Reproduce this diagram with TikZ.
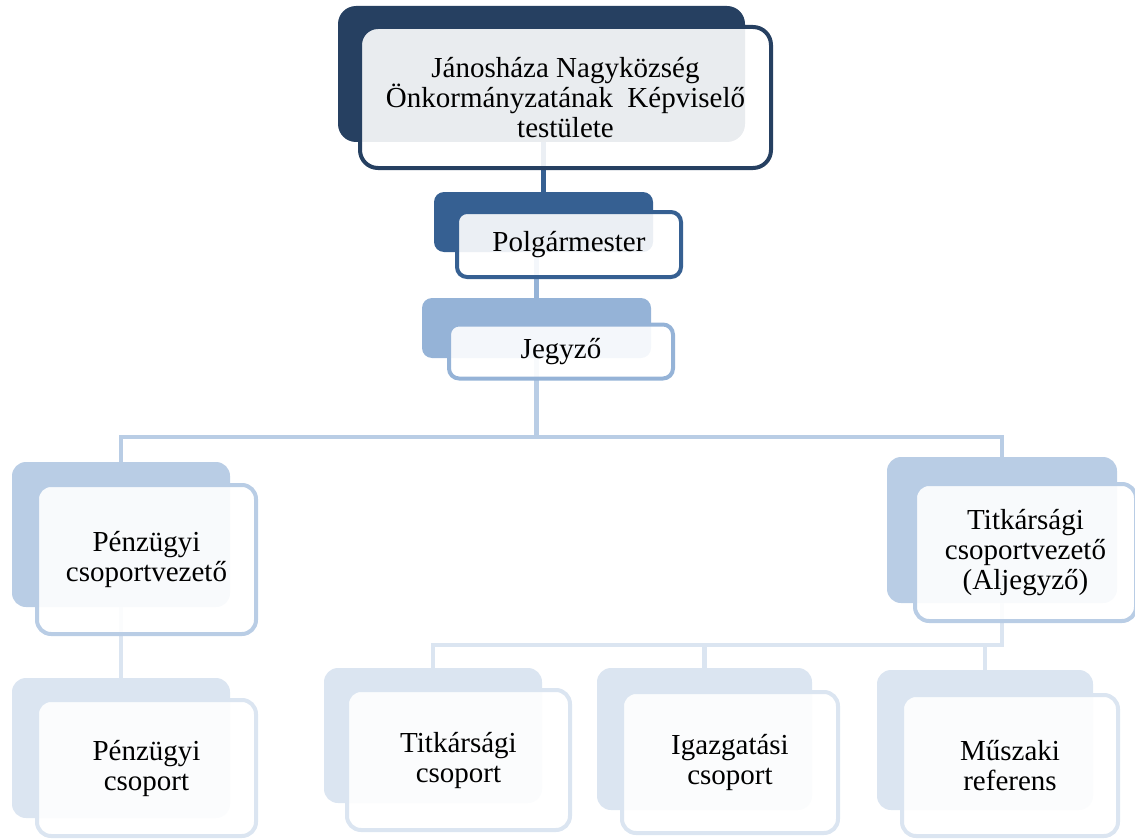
\documentclass[tikz,border=0pt]{standalone}
\usepackage{fontspec}
\setmainfont{Liberation Serif}
\usepackage{tikz}
\usepackage{xcolor}

\definecolor{lvlA}{RGB}{38,64,97}
\definecolor{lvlB}{RGB}{54,96,146}
\definecolor{lvlC}{RGB}{149,179,215}
\definecolor{lvlD}{RGB}{185,205,229}
\definecolor{lvlE}{RGB}{219,229,241}
\newcommand{\orgfont}{\fontsize{29}{30}\selectfont}

\tikzset{
  backbox/.style={fill=#1, rounded corners=14pt, inner sep=0pt},
  frontbox/.style={draw=#1, line width=4pt, fill=white, fill opacity=0.9,
    text opacity=1, rounded corners=14pt, inner sep=0pt, align=center, font=\orgfont},
  conn/.style={draw=#1, line width=4.5pt}
}

\begin{document}
\begin{tikzpicture}[x=1pt, y=-1pt]
        \useasboundingbox (0,0) rectangle (1135,840);

        \node[backbox=lvlA, minimum width=407pt, minimum height=136pt, rounded corners=18pt] (Kb) at (541.5,74) {};
        \node[backbox=lvlB, minimum width=219pt, minimum height=60pt, rounded corners=10pt] (Pb) at (543.5,222) {};
        \node[backbox=lvlC, minimum width=229pt, minimum height=60pt, rounded corners=10pt] (Jb) at (536.5,328) {};
        \node[backbox=lvlD, minimum width=218pt, minimum height=145pt] (PVb) at (121,534.5) {};
        \node[backbox=lvlD, minimum width=230pt, minimum height=146pt] (TVb) at (1002,530) {};
        \node[backbox=lvlE, minimum width=218pt, minimum height=140pt] (PCb) at (121,748) {};
        \node[backbox=lvlE, minimum width=218pt, minimum height=135pt] (TCb) at (433,735.5) {};
        \node[backbox=lvlE, minimum width=215pt, minimum height=142pt] (ICb) at (704.5,739) {};
        \node[backbox=lvlE, minimum width=216pt, minimum height=140pt] (MRb) at (985,740) {};

        \draw[conn=lvlB] (Pb.north |- Kb.south) -- (Pb.north);
        \draw[conn=lvlC] (Jb.north |- Pb.south) -- (Jb.north);
        \draw[conn=lvlD] (Jb.south) -- ++(0,79) -| (PVb.north);
        \draw[conn=lvlD] (Jb.south) -- ++(0,79) -| (TVb.north);
        \draw[conn=lvlE] (PVb.south) -- (PCb.north);
        \draw[conn=lvlE] (TVb.south) -- ++(0,42) -| (TCb.north);
        \draw[conn=lvlE] (TVb.south) -- ++(0,42) -| (ICb.north);
        \draw[conn=lvlE] (TVb.south) -- ++(0,42) -| (MRb.north);

        \node[frontbox=lvlA, minimum width=411pt, minimum height=141pt, rounded corners=18pt] (K) at (565.5,97.5) {Jánosháza Nagyközség\\Önkormányzatának~ Képviselő\\testülete};
        \node[frontbox=lvlB, minimum width=224pt, minimum height=65pt, rounded corners=10pt] (P) at (569,244.5) {Polgármester};
        \node[frontbox=lvlC, minimum width=224pt, minimum height=54pt, rounded corners=10pt] (J) at (561,351.5) {Jegyző};
        \node[frontbox=lvlD, minimum width=219pt, minimum height=149pt] (PV) at (146.5,559.5) {Pénzügyi\\csoportvezető};
        \node[frontbox=lvlD, minimum width=221pt, minimum height=137pt] (TV) at (1025.5,552.5) {Titkársági\\csoportvezető\\(Aljegyző)};
        \node[frontbox=lvlE, minimum width=219pt, minimum height=136pt] (PC) at (146.5,768) {Pénzügyi\\csoport};
        \node[frontbox=lvlE, minimum width=223pt, minimum height=140pt] (TC) at (458.5,760) {Titkársági\\csoport};
        \node[frontbox=lvlE, minimum width=216pt, minimum height=141pt] (IC) at (730,762.5) {Igazgatási\\csoport};
        \node[frontbox=lvlE, minimum width=216pt, minimum height=141pt] (MR) at (1010,765.5) {Műszaki\\referens};

      \end{tikzpicture}
\end{document}
